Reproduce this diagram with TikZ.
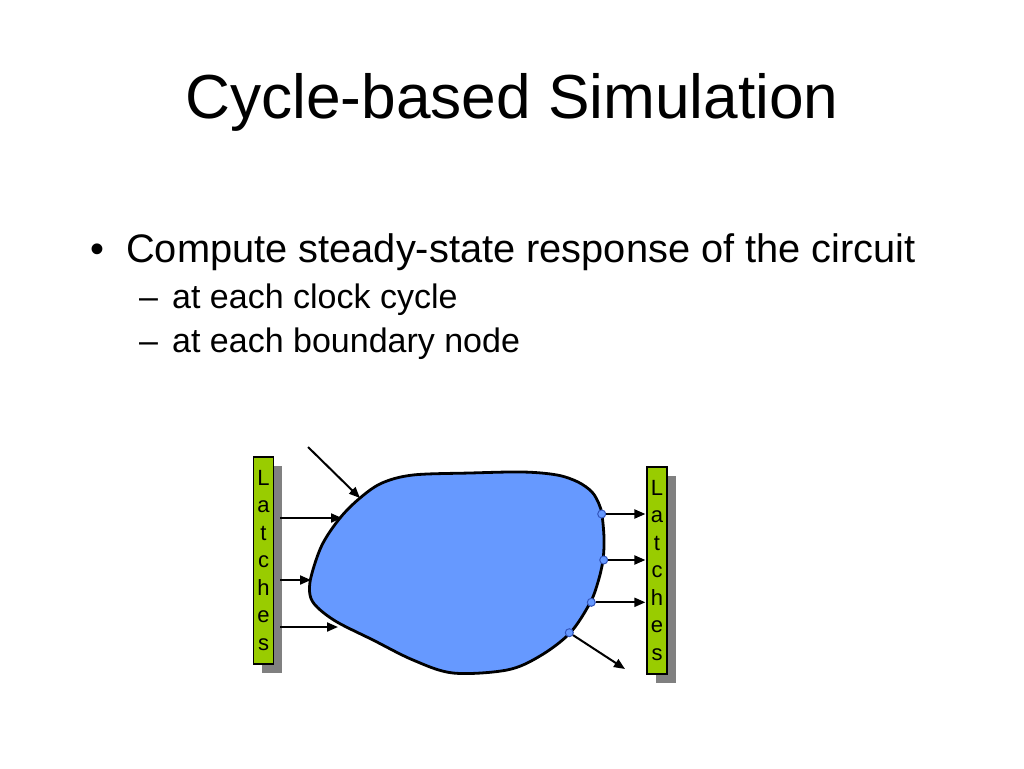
\documentclass[tikz,border=0pt]{standalone}
\usepackage{fontspec}
\setmainfont{Liberation Sans}
\usetikzlibrary{arrows.meta,shadows}
\definecolor{blobblue}{HTML}{6699FF}
\definecolor{dotedge}{HTML}{3355BB}
\definecolor{latchgreen}{HTML}{99CC00}
\definecolor{shadowgray}{HTML}{808080}
\begin{document}
\begin{tikzpicture}[x=1pt,y=-1pt,
  latch/.style={draw=black, line width=1.2pt, fill=latchgreen, minimum width=20pt,
    minimum height=207pt, inner sep=0pt, align=center,
    font=\fontsize{22}{27.5}\selectfont,
    drop shadow={shadow xshift=8.5pt, shadow yshift=-8.5pt, fill=shadowgray, opacity=1}},
  sig/.style={line width=2pt, -{Triangle[length=11pt,width=9pt]}},
  port/.style={circle, draw=dotedge, line width=1pt, fill=blobblue, minimum size=8pt, inner sep=0pt},
  txt/.style={anchor=base west, inner sep=0pt}
]
\useasboundingbox (0,0) rectangle (1024,768);
\fill[white] (0,0) rectangle (1024,768);

% title
\node[anchor=base, inner sep=0pt, font=\fontsize{62.2}{70}\selectfont] (title) at (512,118) {Cycle-based Simulation};

% bullets
\node[txt, font=\fontsize{39.8}{46}\selectfont] (b1) at (90,262) {•};
\node[txt, font=\fontsize{39.8}{46}\selectfont] (t1) at (126,262) {Compute steady-state response of the circuit};
\node[txt, font=\fontsize{34}{40}\selectfont] (d2) at (139,308) {–};
\node[txt, font=\fontsize{34}{40}\selectfont] (t2) at (172,308) {at each clock cycle};
\node[txt, font=\fontsize{34}{40}\selectfont] (d3) at (139,352) {–};
\node[txt, font=\fontsize{34}{40}\selectfont] (t3) at (172,352) {at each boundary node};

% latches
\node[latch] (latchL) at (263.5,560.5) {L\\a\\t\\c\\h\\e\\s};
\node[latch] (latchR) at (657,570.5) {L\\a\\t\\c\\h\\e\\s};

% blob
\draw[line width=2.8pt, fill=blobblue] plot[smooth cycle, tension=0.55] coordinates {
  (360,498) (382,483) (413,475) (470,473) (523,472) (557,475) (578,482)
  (592,492) (599,504) (602,515) (604,538) (603,560) (598,582) (590,603)
  (570,633) (540,656) (507,670) (453,673) (413,660) (373,640) (337,622)
  (317,607) (310,595) (311,577) (322,545) (340,518)};

% boundary ports
\node[port] (o1) at (601.7,514) {};
\node[port] (o2) at (603.7,560) {};
\node[port] (o3) at (591.3,602.3) {};
\node[port] (o4) at (569.3,632.7) {};

% input arrow ends
\coordinate (i0s) at (308,447);
\coordinate (i0) at (360,498);
\coordinate (i1) at (342,518);
\coordinate (i2) at (311,580);
\coordinate (i3) at (338,627);
\coordinate (o4e) at (625,669);

\draw[sig] (i0s) -- (i0);
\draw[sig] ([xshift=6pt]latchL.east |- i1) -- (i1);
\draw[sig] ([xshift=6pt]latchL.east |- i2) -- (i2);
\draw[sig] ([xshift=6pt]latchL.east |- i3) -- (i3);

\draw[sig] (o1.east) -- ([xshift=-1pt]latchR.west |- o1);
\draw[sig] (o2.east) -- ([xshift=-1pt]latchR.west |- o2);
\draw[sig] (o3.east) -- ([xshift=-1pt]latchR.west |- o3);
\draw[sig] (o4) -- (o4e);
\end{tikzpicture}
\end{document}
